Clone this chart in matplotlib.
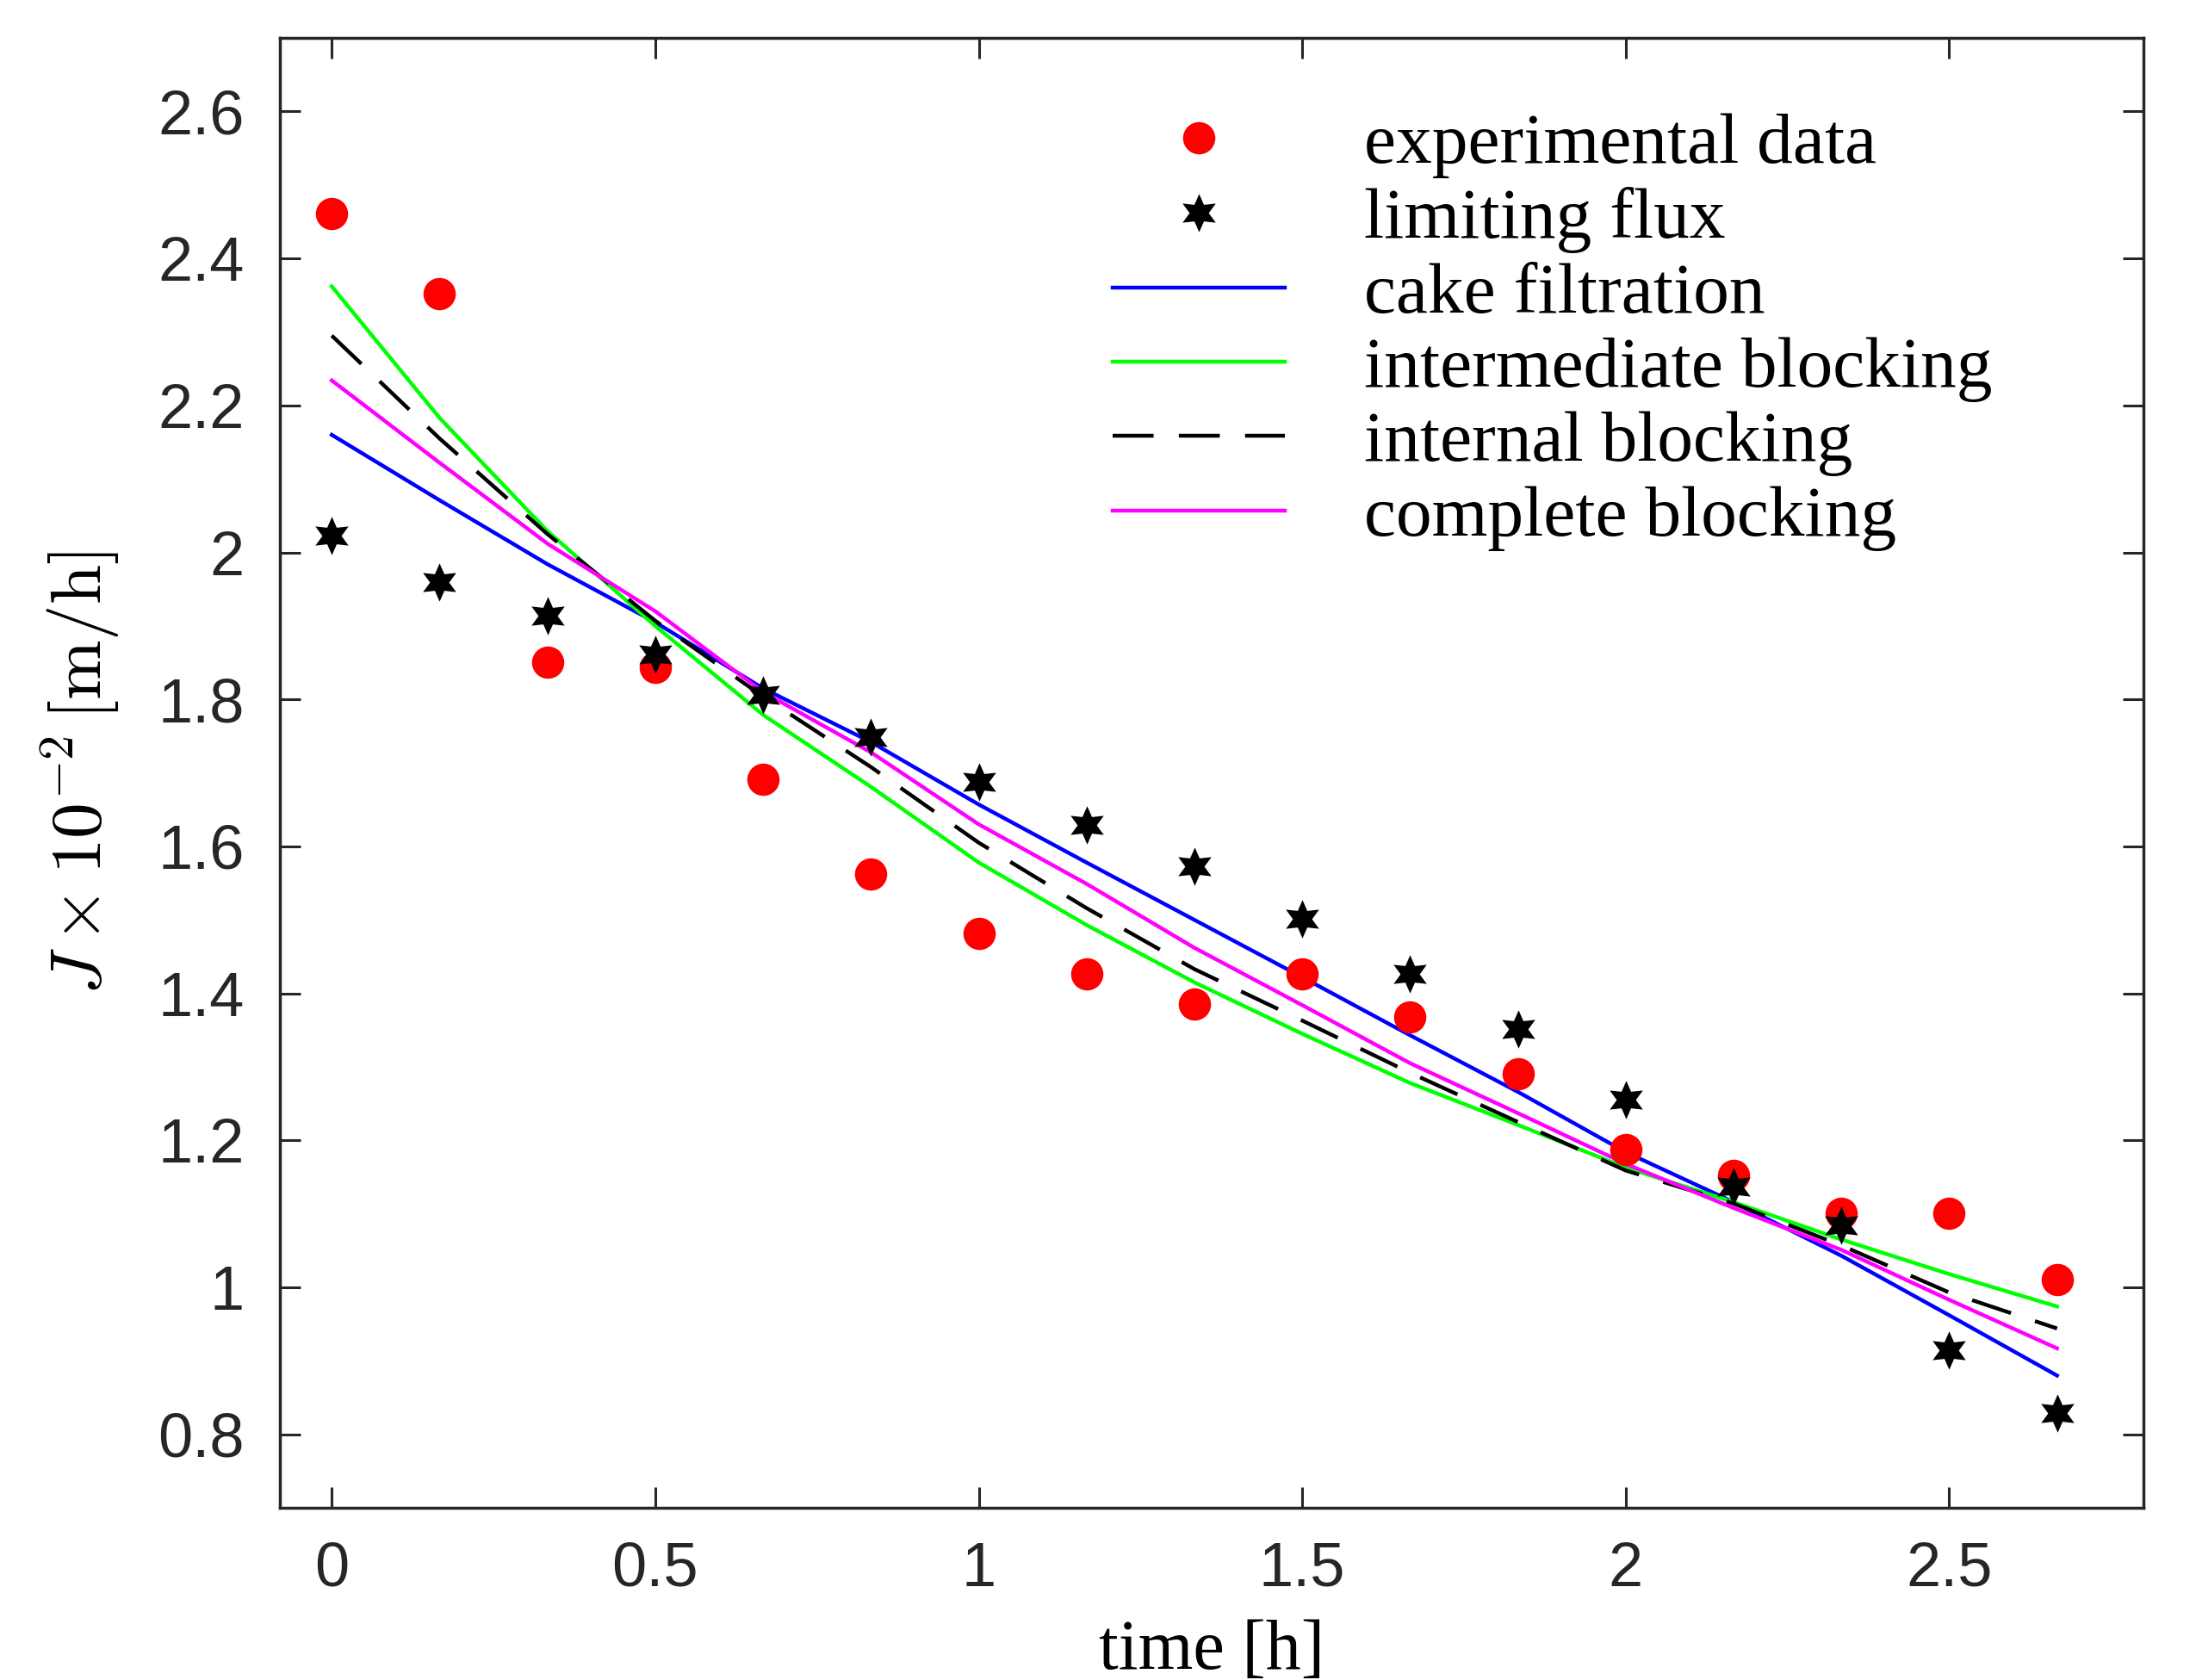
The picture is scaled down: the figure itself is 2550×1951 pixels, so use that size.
import numpy as np
import matplotlib
matplotlib.use("Agg")
import matplotlib.pyplot as plt

# ---------------- data ----------------
time_h = [0, 1/6, 2/6, 3/6, 4/6, 5/6, 1, 7/6, 8/6, 9/6, 10/6, 11/6, 2, 13/6, 14/6, 15/6, 16/6]

experimental = [2.461, 2.352, 1.851, 1.844, 1.691, 1.562, 1.482, 1.427, 1.385,
                1.427, 1.368, 1.290, 1.187, 1.152, 1.101, 1.101, 1.010]
limiting = [2.023, 1.960, 1.914, 1.861, 1.806, 1.749, 1.688, 1.629, 1.573,
            1.501, 1.427, 1.352, 1.255, 1.137, 1.084, 0.914, 0.829]

cake = [2.160, 2.071, 1.984, 1.905, 1.815, 1.742, 1.657, 1.578, 1.500,
        1.422, 1.343, 1.266, 1.184, 1.116, 1.043, 0.962, 0.880]
intermediate = [2.362, 2.183, 2.029, 1.900, 1.779, 1.681, 1.578, 1.493, 1.415,
                1.345, 1.278, 1.221, 1.163, 1.116, 1.065, 1.018, 0.974]
internal = [2.295, 2.155, 2.025, 1.907, 1.804, 1.708, 1.605, 1.516, 1.433,
            1.363, 1.292, 1.225, 1.159, 1.114, 1.057, 0.993, 0.944]
complete = [2.234, 2.122, 2.012, 1.920, 1.810, 1.728, 1.630, 1.549, 1.462,
            1.384, 1.305, 1.237, 1.168, 1.108, 1.051, 0.983, 0.917]

xticks = [0, 0.5, 1, 1.5, 2, 2.5]
xticklabels = ["0", "0.5", "1", "1.5", "2", "2.5"]
yticks = [0.8, 1.0, 1.2, 1.4, 1.6, 1.8, 2.0, 2.2, 2.4, 2.6]
yticklabels = ["0.8", "1", "1.2", "1.4", "1.6", "1.8", "2", "2.2", "2.4", "2.6"]

labels = ["experimental data", "limiting flux", "cake filtration",
          "intermediate blocking", "internal blocking", "complete blocking"]

# ---------------- figure ----------------
plt.rcParams['mathtext.fontset'] = 'cm'
GRAY = '#262626'

fig = plt.figure(figsize=(25.5, 19.51), dpi=100)
ax = fig.add_axes([0.1275, 0.1025, 0.976 - 0.1275, 0.9774 - 0.1025])

lw = 3.2
ax.plot(time_h, experimental, linestyle='none', marker='o', markersize=27,
        color='#ff0000', markeredgewidth=0, label=labels[0], zorder=3)
ax.plot(time_h, limiting, linestyle='none', marker=(6, 1, 0), markersize=32,
        color='black', markeredgewidth=0, label=labels[1], zorder=3)
ax.plot(time_h, cake, color='#0000ff', lw=lw, label=labels[2], zorder=2)
ax.plot(time_h, intermediate, color='#00ff00', lw=lw, label=labels[3], zorder=2)
l_int, = ax.plot(time_h, internal, color='black', lw=lw, label=labels[4], zorder=2)
l_int.set_dashes([10.7, 6.6])
ax.plot(time_h, complete, color='#ff00ff', lw=lw, label=labels[5], zorder=2)

ax.set_xlim(-0.08, 2.8)
ax.set_ylim(0.7, 2.7)
ax.set_xticks(xticks)
ax.set_xticklabels(xticklabels)
ax.set_yticks(yticks)
ax.set_yticklabels(yticklabels)

ax.tick_params(axis='both', which='both', direction='in', length=17, width=2.2,
               color=GRAY, labelcolor=GRAY, labelsize=52,
               top=True, right=True)
ax.tick_params(axis='x', pad=28)
ax.tick_params(axis='y', pad=30)
for lab in ax.get_xticklabels() + ax.get_yticklabels():
    lab.set_fontfamily('Liberation Sans')
for sp in ax.spines.values():
    sp.set_linewidth(2.5)
    sp.set_color(GRAY)

ax.set_xlabel('time [h]', family='Liberation Serif', fontsize=59, color='black', labelpad=17)
ax.set_ylabel(r'$J \times 10^{-2}\,[\mathrm{m/h}]$', fontsize=60, color='black', labelpad=30)

leg = ax.legend(loc='upper left', bbox_to_anchor=(0.447, 0.949), frameon=False,
                prop={'family': 'Liberation Serif', 'size': 60},
                handlelength=2.4, handletextpad=1.1, labelspacing=0.12,
                borderpad=0, borderaxespad=0, numpoints=1)

fig.savefig('out.png', dpi=100)
